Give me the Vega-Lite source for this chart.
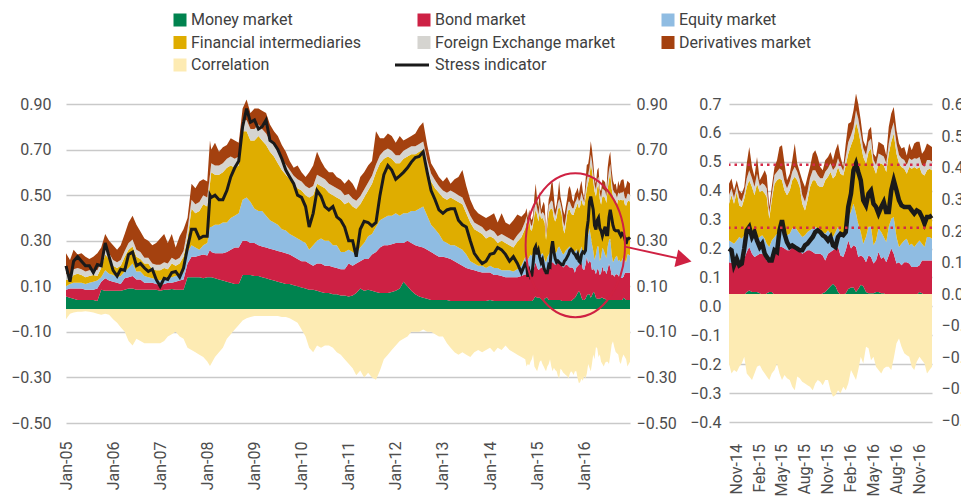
{
  "$schema": "https://vega.github.io/schema/vega-lite/v6.json",
  "padding": {"left": 10, "top": 12, "right": 0, "bottom": 0},
  "background": "white",
  "config": {
    "font": "Roboto",
    "view": {"stroke": null},
    "axis": {"labelFont": "Roboto", "labelFontSize": 16, "labelColor": "#4d4d4d", "domain": false, "ticks": false, "gridColor": "#c9c9c9", "gridWidth": 1.5, "labelOverlap": false},
    "legend": {"labelFont": "Roboto"}
  },
  "bounds": "flush",
  "spacing": 99,
  "datasets": {
    "d": [
      {"date":"2005-01-01","s1_money":0.055,"s2_bond":0.03,"s3_equity":0.015,"s4_finint":0.03,"s5_fx":0.025,"s6_deriv":0.09,"corr":-0.045,"stress":0.19},
      {"date":"2005-02-01","s1_money":0.05,"s2_bond":0.04,"s3_equity":0.02,"s4_finint":0.015,"s5_fx":0.025,"s6_deriv":0.065,"corr":-0.02,"stress":0.12},
      {"date":"2005-03-01","s1_money":0.045,"s2_bond":0.045,"s3_equity":0.025,"s4_finint":0.035,"s5_fx":0.025,"s6_deriv":0.085,"corr":-0.015,"stress":0.21},
      {"date":"2005-04-01","s1_money":0.04,"s2_bond":0.05,"s3_equity":0.025,"s4_finint":0.04,"s5_fx":0.025,"s6_deriv":0.06,"corr":-0.012,"stress":0.23},
      {"date":"2005-05-01","s1_money":0.04,"s2_bond":0.05,"s3_equity":0.025,"s4_finint":0.035,"s5_fx":0.025,"s6_deriv":0.07,"corr":-0.012,"stress":0.21},
      {"date":"2005-06-01","s1_money":0.04,"s2_bond":0.045,"s3_equity":0.025,"s4_finint":0.03,"s5_fx":0.025,"s6_deriv":0.065,"corr":-0.01,"stress":0.19},
      {"date":"2005-07-01","s1_money":0.04,"s2_bond":0.045,"s3_equity":0.03,"s4_finint":0.03,"s5_fx":0.025,"s6_deriv":0.05,"corr":-0.012,"stress":0.19},
      {"date":"2005-08-01","s1_money":0.04,"s2_bond":0.045,"s3_equity":0.035,"s4_finint":0.03,"s5_fx":0.025,"s6_deriv":0.055,"corr":-0.015,"stress":0.16},
      {"date":"2005-09-01","s1_money":0.035,"s2_bond":0.055,"s3_equity":0.035,"s4_finint":0.02,"s5_fx":0.025,"s6_deriv":0.075,"corr":-0.02,"stress":0.195},
      {"date":"2005-10-01","s1_money":0.085,"s2_bond":0.035,"s3_equity":0.02,"s4_finint":0.04,"s5_fx":0.025,"s6_deriv":0.065,"corr":-0.025,"stress":0.19},
      {"date":"2005-11-01","s1_money":0.08,"s2_bond":0.055,"s3_equity":0.035,"s4_finint":0.07,"s5_fx":0.025,"s6_deriv":0.065,"corr":-0.02,"stress":0.29},
      {"date":"2005-12-01","s1_money":0.08,"s2_bond":0.045,"s3_equity":0.03,"s4_finint":0.065,"s5_fx":0.025,"s6_deriv":0.055,"corr":-0.025,"stress":0.23},
      {"date":"2006-01-01","s1_money":0.08,"s2_bond":0.04,"s3_equity":0.03,"s4_finint":0.04,"s5_fx":0.025,"s6_deriv":0.065,"corr":-0.045,"stress":0.17},
      {"date":"2006-02-01","s1_money":0.08,"s2_bond":0.035,"s3_equity":0.025,"s4_finint":0.04,"s5_fx":0.025,"s6_deriv":0.055,"corr":-0.06,"stress":0.145},
      {"date":"2006-03-01","s1_money":0.08,"s2_bond":0.03,"s3_equity":0.035,"s4_finint":0.045,"s5_fx":0.025,"s6_deriv":0.065,"corr":-0.08,"stress":0.175},
      {"date":"2006-04-01","s1_money":0.085,"s2_bond":0.05,"s3_equity":0.03,"s4_finint":0.065,"s5_fx":0.025,"s6_deriv":0.075,"corr":-0.1,"stress":0.17},
      {"date":"2006-05-01","s1_money":0.09,"s2_bond":0.05,"s3_equity":0.04,"s4_finint":0.08,"s5_fx":0.03,"s6_deriv":0.09,"corr":-0.14,"stress":0.24},
      {"date":"2006-06-01","s1_money":0.09,"s2_bond":0.055,"s3_equity":0.055,"s4_finint":0.075,"s5_fx":0.03,"s6_deriv":0.105,"corr":-0.16,"stress":0.25},
      {"date":"2006-07-01","s1_money":0.085,"s2_bond":0.045,"s3_equity":0.035,"s4_finint":0.065,"s5_fx":0.03,"s6_deriv":0.11,"corr":-0.13,"stress":0.19},
      {"date":"2006-08-01","s1_money":0.085,"s2_bond":0.045,"s3_equity":0.035,"s4_finint":0.055,"s5_fx":0.03,"s6_deriv":0.09,"corr":-0.14,"stress":0.2},
      {"date":"2006-09-01","s1_money":0.085,"s2_bond":0.03,"s3_equity":0.03,"s4_finint":0.055,"s5_fx":0.025,"s6_deriv":0.085,"corr":-0.15,"stress":0.18},
      {"date":"2006-10-01","s1_money":0.085,"s2_bond":0.03,"s3_equity":0.025,"s4_finint":0.06,"s5_fx":0.025,"s6_deriv":0.075,"corr":-0.15,"stress":0.165},
      {"date":"2006-11-01","s1_money":0.085,"s2_bond":0.03,"s3_equity":0.02,"s4_finint":0.04,"s5_fx":0.025,"s6_deriv":0.08,"corr":-0.15,"stress":0.175},
      {"date":"2006-12-01","s1_money":0.085,"s2_bond":0.025,"s3_equity":0.02,"s4_finint":0.04,"s5_fx":0.025,"s6_deriv":0.095,"corr":-0.15,"stress":0.13},
      {"date":"2007-01-01","s1_money":0.08,"s2_bond":0.025,"s3_equity":0.02,"s4_finint":0.045,"s5_fx":0.025,"s6_deriv":0.115,"corr":-0.15,"stress":0.1},
      {"date":"2007-02-01","s1_money":0.085,"s2_bond":0.025,"s3_equity":0.025,"s4_finint":0.045,"s5_fx":0.025,"s6_deriv":0.125,"corr":-0.14,"stress":0.135},
      {"date":"2007-03-01","s1_money":0.085,"s2_bond":0.03,"s3_equity":0.025,"s4_finint":0.035,"s5_fx":0.025,"s6_deriv":0.09,"corr":-0.12,"stress":0.13},
      {"date":"2007-04-01","s1_money":0.088,"s2_bond":0.027,"s3_equity":0.025,"s4_finint":0.06,"s5_fx":0.025,"s6_deriv":0.105,"corr":-0.11,"stress":0.16},
      {"date":"2007-05-01","s1_money":0.085,"s2_bond":0.035,"s3_equity":0.025,"s4_finint":0.045,"s5_fx":0.025,"s6_deriv":0.055,"corr":-0.1,"stress":0.165},
      {"date":"2007-06-01","s1_money":0.085,"s2_bond":0.04,"s3_equity":0.025,"s4_finint":0.05,"s5_fx":0.025,"s6_deriv":0.095,"corr":-0.12,"stress":0.14},
      {"date":"2007-07-01","s1_money":0.085,"s2_bond":0.045,"s3_equity":0.03,"s4_finint":0.07,"s5_fx":0.025,"s6_deriv":0.095,"corr":-0.13,"stress":0.18},
      {"date":"2007-08-01","s1_money":0.14,"s2_bond":0.06,"s3_equity":0.05,"s4_finint":0.06,"s5_fx":0.04,"s6_deriv":0.05,"corr":-0.17,"stress":0.27},
      {"date":"2007-09-01","s1_money":0.14,"s2_bond":0.09,"s3_equity":0.05,"s4_finint":0.16,"s5_fx":0.04,"s6_deriv":0.07,"corr":-0.18,"stress":0.35},
      {"date":"2007-10-01","s1_money":0.14,"s2_bond":0.09,"s3_equity":0.04,"s4_finint":0.15,"s5_fx":0.04,"s6_deriv":0.07,"corr":-0.19,"stress":0.35},
      {"date":"2007-11-01","s1_money":0.14,"s2_bond":0.095,"s3_equity":0.025,"s4_finint":0.17,"s5_fx":0.04,"s6_deriv":0.09,"corr":-0.2,"stress":0.31},
      {"date":"2007-12-01","s1_money":0.135,"s2_bond":0.105,"s3_equity":0.04,"s4_finint":0.18,"s5_fx":0.04,"s6_deriv":0.07,"corr":-0.21,"stress":0.32},
      {"date":"2008-01-01","s1_money":0.14,"s2_bond":0.095,"s3_equity":0.055,"s4_finint":0.16,"s5_fx":0.04,"s6_deriv":0.07,"corr":-0.23,"stress":0.32},
      {"date":"2008-01-22","s1_money":0.14,"s2_bond":0.12,"s3_equity":0.1,"s4_finint":0.19,"s5_fx":0.04,"s6_deriv":0.15,"corr":-0.25,"stress":0.5},
      {"date":"2008-02-01","s1_money":0.14,"s2_bond":0.11,"s3_equity":0.11,"s4_finint":0.24,"s5_fx":0.04,"s6_deriv":0.06,"corr":-0.24,"stress":0.49},
      {"date":"2008-03-01","s1_money":0.135,"s2_bond":0.11,"s3_equity":0.125,"s4_finint":0.22,"s5_fx":0.04,"s6_deriv":0.1,"corr":-0.21,"stress":0.5},
      {"date":"2008-04-01","s1_money":0.13,"s2_bond":0.115,"s3_equity":0.125,"s4_finint":0.22,"s5_fx":0.04,"s6_deriv":0.06,"corr":-0.19,"stress":0.48},
      {"date":"2008-05-01","s1_money":0.125,"s2_bond":0.12,"s3_equity":0.135,"s4_finint":0.22,"s5_fx":0.04,"s6_deriv":0.07,"corr":-0.17,"stress":0.48},
      {"date":"2008-06-01","s1_money":0.12,"s2_bond":0.13,"s3_equity":0.13,"s4_finint":0.24,"s5_fx":0.04,"s6_deriv":0.06,"corr":-0.13,"stress":0.52},
      {"date":"2008-07-01","s1_money":0.115,"s2_bond":0.145,"s3_equity":0.14,"s4_finint":0.23,"s5_fx":0.04,"s6_deriv":0.08,"corr":-0.11,"stress":0.58},
      {"date":"2008-08-01","s1_money":0.11,"s2_bond":0.16,"s3_equity":0.14,"s4_finint":0.21,"s5_fx":0.04,"s6_deriv":0.08,"corr":-0.09,"stress":0.62},
      {"date":"2008-09-01","s1_money":0.11,"s2_bond":0.16,"s3_equity":0.15,"s4_finint":0.21,"s5_fx":0.04,"s6_deriv":0.06,"corr":-0.07,"stress":0.65},
      {"date":"2008-10-01","s1_money":0.15,"s2_bond":0.15,"s3_equity":0.18,"s4_finint":0.3,"s5_fx":0.045,"s6_deriv":0.055,"corr":-0.05,"stress":0.8},
      {"date":"2008-11-01","s1_money":0.15,"s2_bond":0.15,"s3_equity":0.19,"s4_finint":0.29,"s5_fx":0.05,"s6_deriv":0.09,"corr":-0.04,"stress":0.88},
      {"date":"2008-12-01","s1_money":0.15,"s2_bond":0.14,"s3_equity":0.18,"s4_finint":0.27,"s5_fx":0.05,"s6_deriv":0.07,"corr":-0.035,"stress":0.82},
      {"date":"2009-01-01","s1_money":0.145,"s2_bond":0.145,"s3_equity":0.15,"s4_finint":0.3,"s5_fx":0.05,"s6_deriv":0.09,"corr":-0.03,"stress":0.83},
      {"date":"2009-02-01","s1_money":0.145,"s2_bond":0.135,"s3_equity":0.15,"s4_finint":0.33,"s5_fx":0.05,"s6_deriv":0.07,"corr":-0.03,"stress":0.79},
      {"date":"2009-03-01","s1_money":0.14,"s2_bond":0.135,"s3_equity":0.155,"s4_finint":0.31,"s5_fx":0.05,"s6_deriv":0.08,"corr":-0.03,"stress":0.8},
      {"date":"2009-04-01","s1_money":0.135,"s2_bond":0.135,"s3_equity":0.14,"s4_finint":0.31,"s5_fx":0.05,"s6_deriv":0.09,"corr":-0.03,"stress":0.83},
      {"date":"2009-05-01","s1_money":0.13,"s2_bond":0.135,"s3_equity":0.125,"s4_finint":0.3,"s5_fx":0.05,"s6_deriv":0.07,"corr":-0.03,"stress":0.74},
      {"date":"2009-06-01","s1_money":0.125,"s2_bond":0.135,"s3_equity":0.12,"s4_finint":0.29,"s5_fx":0.05,"s6_deriv":0.06,"corr":-0.03,"stress":0.727},
      {"date":"2009-07-01","s1_money":0.12,"s2_bond":0.135,"s3_equity":0.115,"s4_finint":0.27,"s5_fx":0.05,"s6_deriv":0.07,"corr":-0.03,"stress":0.7},
      {"date":"2009-08-01","s1_money":0.115,"s2_bond":0.135,"s3_equity":0.1,"s4_finint":0.26,"s5_fx":0.045,"s6_deriv":0.065,"corr":-0.035,"stress":0.66},
      {"date":"2009-09-01","s1_money":0.11,"s2_bond":0.135,"s3_equity":0.1,"s4_finint":0.245,"s5_fx":0.045,"s6_deriv":0.055,"corr":-0.035,"stress":0.61},
      {"date":"2009-10-01","s1_money":0.11,"s2_bond":0.13,"s3_equity":0.09,"s4_finint":0.24,"s5_fx":0.04,"s6_deriv":0.04,"corr":-0.04,"stress":0.58},
      {"date":"2009-11-01","s1_money":0.105,"s2_bond":0.125,"s3_equity":0.09,"s4_finint":0.23,"s5_fx":0.035,"s6_deriv":0.035,"corr":-0.05,"stress":0.55},
      {"date":"2009-12-01","s1_money":0.1,"s2_bond":0.12,"s3_equity":0.09,"s4_finint":0.22,"s5_fx":0.04,"s6_deriv":0.06,"corr":-0.06,"stress":0.5},
      {"date":"2010-01-01","s1_money":0.095,"s2_bond":0.115,"s3_equity":0.09,"s4_finint":0.22,"s5_fx":0.04,"s6_deriv":0.04,"corr":-0.09,"stress":0.49},
      {"date":"2010-02-01","s1_money":0.09,"s2_bond":0.12,"s3_equity":0.08,"s4_finint":0.21,"s5_fx":0.04,"s6_deriv":0.04,"corr":-0.12,"stress":0.45},
      {"date":"2010-03-01","s1_money":0.085,"s2_bond":0.115,"s3_equity":0.06,"s4_finint":0.23,"s5_fx":0.04,"s6_deriv":0.07,"corr":-0.17,"stress":0.36},
      {"date":"2010-04-01","s1_money":0.085,"s2_bond":0.105,"s3_equity":0.09,"s4_finint":0.22,"s5_fx":0.04,"s6_deriv":0.09,"corr":-0.19,"stress":0.42},
      {"date":"2010-05-01","s1_money":0.08,"s2_bond":0.12,"s3_equity":0.1,"s4_finint":0.25,"s5_fx":0.04,"s6_deriv":0.1,"corr":-0.16,"stress":0.52},
      {"date":"2010-06-01","s1_money":0.075,"s2_bond":0.125,"s3_equity":0.11,"s4_finint":0.23,"s5_fx":0.04,"s6_deriv":0.07,"corr":-0.17,"stress":0.495},
      {"date":"2010-07-01","s1_money":0.07,"s2_bond":0.12,"s3_equity":0.11,"s4_finint":0.23,"s5_fx":0.04,"s6_deriv":0.05,"corr":-0.16,"stress":0.45},
      {"date":"2010-08-01","s1_money":0.07,"s2_bond":0.12,"s3_equity":0.11,"s4_finint":0.21,"s5_fx":0.04,"s6_deriv":0.05,"corr":-0.16,"stress":0.435},
      {"date":"2010-09-01","s1_money":0.065,"s2_bond":0.12,"s3_equity":0.095,"s4_finint":0.22,"s5_fx":0.04,"s6_deriv":0.06,"corr":-0.17,"stress":0.45},
      {"date":"2010-10-01","s1_money":0.065,"s2_bond":0.115,"s3_equity":0.1,"s4_finint":0.21,"s5_fx":0.04,"s6_deriv":0.05,"corr":-0.19,"stress":0.405},
      {"date":"2010-11-01","s1_money":0.06,"s2_bond":0.115,"s3_equity":0.075,"s4_finint":0.23,"s5_fx":0.04,"s6_deriv":0.05,"corr":-0.2,"stress":0.39},
      {"date":"2010-12-01","s1_money":0.06,"s2_bond":0.115,"s3_equity":0.075,"s4_finint":0.21,"s5_fx":0.04,"s6_deriv":0.05,"corr":-0.22,"stress":0.36},
      {"date":"2011-01-01","s1_money":0.055,"s2_bond":0.145,"s3_equity":0.06,"s4_finint":0.21,"s5_fx":0.035,"s6_deriv":0.065,"corr":-0.24,"stress":0.3},
      {"date":"2011-02-01","s1_money":0.06,"s2_bond":0.13,"s3_equity":0.06,"s4_finint":0.2,"s5_fx":0.035,"s6_deriv":0.065,"corr":-0.26,"stress":0.3},
      {"date":"2011-03-01","s1_money":0.07,"s2_bond":0.13,"s3_equity":0.04,"s4_finint":0.2,"s5_fx":0.035,"s6_deriv":0.045,"corr":-0.29,"stress":0.23},
      {"date":"2011-04-01","s1_money":0.09,"s2_bond":0.12,"s3_equity":0.06,"s4_finint":0.19,"s5_fx":0.035,"s6_deriv":0.085,"corr":-0.27,"stress":0.35},
      {"date":"2011-05-01","s1_money":0.08,"s2_bond":0.14,"s3_equity":0.07,"s4_finint":0.2,"s5_fx":0.035,"s6_deriv":0.075,"corr":-0.3,"stress":0.385},
      {"date":"2011-06-01","s1_money":0.085,"s2_bond":0.135,"s3_equity":0.1,"s4_finint":0.2,"s5_fx":0.035,"s6_deriv":0.075,"corr":-0.28,"stress":0.38},
      {"date":"2011-07-01","s1_money":0.08,"s2_bond":0.16,"s3_equity":0.09,"s4_finint":0.22,"s5_fx":0.035,"s6_deriv":0.065,"corr":-0.3,"stress":0.365},
      {"date":"2011-08-01","s1_money":0.075,"s2_bond":0.175,"s3_equity":0.11,"s4_finint":0.24,"s5_fx":0.035,"s6_deriv":0.145,"corr":-0.31,"stress":0.38},
      {"date":"2011-09-01","s1_money":0.07,"s2_bond":0.2,"s3_equity":0.12,"s4_finint":0.25,"s5_fx":0.035,"s6_deriv":0.075,"corr":-0.27,"stress":0.5},
      {"date":"2011-10-01","s1_money":0.07,"s2_bond":0.21,"s3_equity":0.12,"s4_finint":0.26,"s5_fx":0.035,"s6_deriv":0.055,"corr":-0.22,"stress":0.59},
      {"date":"2011-11-01","s1_money":0.07,"s2_bond":0.21,"s3_equity":0.13,"s4_finint":0.26,"s5_fx":0.035,"s6_deriv":0.065,"corr":-0.2,"stress":0.63},
      {"date":"2011-12-01","s1_money":0.075,"s2_bond":0.21,"s3_equity":0.125,"s4_finint":0.25,"s5_fx":0.035,"s6_deriv":0.065,"corr":-0.18,"stress":0.61},
      {"date":"2012-01-01","s1_money":0.08,"s2_bond":0.21,"s3_equity":0.13,"s4_finint":0.22,"s5_fx":0.035,"s6_deriv":0.055,"corr":-0.16,"stress":0.57},
      {"date":"2012-02-01","s1_money":0.09,"s2_bond":0.2,"s3_equity":0.12,"s4_finint":0.23,"s5_fx":0.035,"s6_deriv":0.085,"corr":-0.14,"stress":0.585},
      {"date":"2012-03-01","s1_money":0.12,"s2_bond":0.17,"s3_equity":0.13,"s4_finint":0.24,"s5_fx":0.035,"s6_deriv":0.045,"corr":-0.13,"stress":0.6},
      {"date":"2012-04-01","s1_money":0.1,"s2_bond":0.2,"s3_equity":0.12,"s4_finint":0.25,"s5_fx":0.035,"s6_deriv":0.045,"corr":-0.12,"stress":0.62},
      {"date":"2012-05-01","s1_money":0.08,"s2_bond":0.21,"s3_equity":0.14,"s4_finint":0.25,"s5_fx":0.035,"s6_deriv":0.045,"corr":-0.1,"stress":0.645},
      {"date":"2012-06-01","s1_money":0.065,"s2_bond":0.215,"s3_equity":0.15,"s4_finint":0.25,"s5_fx":0.035,"s6_deriv":0.055,"corr":-0.1,"stress":0.665},
      {"date":"2012-07-01","s1_money":0.055,"s2_bond":0.22,"s3_equity":0.165,"s4_finint":0.25,"s5_fx":0.035,"s6_deriv":0.075,"corr":-0.1,"stress":0.67},
      {"date":"2012-08-01","s1_money":0.05,"s2_bond":0.22,"s3_equity":0.18,"s4_finint":0.25,"s5_fx":0.035,"s6_deriv":0.085,"corr":-0.09,"stress":0.69},
      {"date":"2012-09-01","s1_money":0.045,"s2_bond":0.215,"s3_equity":0.15,"s4_finint":0.21,"s5_fx":0.035,"s6_deriv":0.065,"corr":-0.1,"stress":0.6},
      {"date":"2012-10-01","s1_money":0.04,"s2_bond":0.21,"s3_equity":0.12,"s4_finint":0.19,"s5_fx":0.035,"s6_deriv":0.045,"corr":-0.1,"stress":0.52},
      {"date":"2012-11-01","s1_money":0.04,"s2_bond":0.2,"s3_equity":0.11,"s4_finint":0.18,"s5_fx":0.035,"s6_deriv":0.045,"corr":-0.11,"stress":0.48},
      {"date":"2012-12-01","s1_money":0.04,"s2_bond":0.19,"s3_equity":0.1,"s4_finint":0.18,"s5_fx":0.03,"s6_deriv":0.04,"corr":-0.12,"stress":0.435},
      {"date":"2013-01-01","s1_money":0.04,"s2_bond":0.19,"s3_equity":0.07,"s4_finint":0.19,"s5_fx":0.03,"s6_deriv":0.04,"corr":-0.12,"stress":0.42},
      {"date":"2013-02-01","s1_money":0.04,"s2_bond":0.185,"s3_equity":0.065,"s4_finint":0.19,"s5_fx":0.03,"s6_deriv":0.07,"corr":-0.15,"stress":0.435},
      {"date":"2013-03-01","s1_money":0.035,"s2_bond":0.185,"s3_equity":0.06,"s4_finint":0.21,"s5_fx":0.03,"s6_deriv":0.03,"corr":-0.17,"stress":0.44},
      {"date":"2013-04-01","s1_money":0.035,"s2_bond":0.175,"s3_equity":0.07,"s4_finint":0.2,"s5_fx":0.03,"s6_deriv":0.06,"corr":-0.19,"stress":0.44},
      {"date":"2013-05-01","s1_money":0.035,"s2_bond":0.165,"s3_equity":0.07,"s4_finint":0.2,"s5_fx":0.03,"s6_deriv":0.08,"corr":-0.2,"stress":0.39},
      {"date":"2013-06-01","s1_money":0.035,"s2_bond":0.155,"s3_equity":0.07,"s4_finint":0.2,"s5_fx":0.03,"s6_deriv":0.12,"corr":-0.19,"stress":0.37},
      {"date":"2013-07-01","s1_money":0.035,"s2_bond":0.145,"s3_equity":0.06,"s4_finint":0.18,"s5_fx":0.03,"s6_deriv":0.09,"corr":-0.2,"stress":0.36},
      {"date":"2013-08-01","s1_money":0.035,"s2_bond":0.14,"s3_equity":0.035,"s4_finint":0.17,"s5_fx":0.03,"s6_deriv":0.07,"corr":-0.21,"stress":0.3},
      {"date":"2013-09-01","s1_money":0.035,"s2_bond":0.135,"s3_equity":0.03,"s4_finint":0.15,"s5_fx":0.03,"s6_deriv":0.06,"corr":-0.19,"stress":0.245},
      {"date":"2013-10-01","s1_money":0.035,"s2_bond":0.13,"s3_equity":0.025,"s4_finint":0.15,"s5_fx":0.03,"s6_deriv":0.05,"corr":-0.18,"stress":0.22},
      {"date":"2013-11-01","s1_money":0.035,"s2_bond":0.125,"s3_equity":0.03,"s4_finint":0.14,"s5_fx":0.03,"s6_deriv":0.05,"corr":-0.19,"stress":0.2},
      {"date":"2013-12-01","s1_money":0.035,"s2_bond":0.125,"s3_equity":0.02,"s4_finint":0.13,"s5_fx":0.03,"s6_deriv":0.06,"corr":-0.18,"stress":0.21},
      {"date":"2014-01-01","s1_money":0.04,"s2_bond":0.12,"s3_equity":0.03,"s4_finint":0.13,"s5_fx":0.03,"s6_deriv":0.06,"corr":-0.17,"stress":0.24},
      {"date":"2014-02-01","s1_money":0.035,"s2_bond":0.115,"s3_equity":0.03,"s4_finint":0.13,"s5_fx":0.03,"s6_deriv":0.08,"corr":-0.19,"stress":0.245},
      {"date":"2014-03-01","s1_money":0.035,"s2_bond":0.115,"s3_equity":0.03,"s4_finint":0.11,"s5_fx":0.03,"s6_deriv":0.06,"corr":-0.17,"stress":0.27},
      {"date":"2014-04-01","s1_money":0.035,"s2_bond":0.11,"s3_equity":0.025,"s4_finint":0.13,"s5_fx":0.03,"s6_deriv":0.09,"corr":-0.18,"stress":0.26},
      {"date":"2014-05-01","s1_money":0.035,"s2_bond":0.105,"s3_equity":0.03,"s4_finint":0.12,"s5_fx":0.03,"s6_deriv":0.06,"corr":-0.16,"stress":0.24},
      {"date":"2014-06-01","s1_money":0.035,"s2_bond":0.105,"s3_equity":0.03,"s4_finint":0.11,"s5_fx":0.03,"s6_deriv":0.06,"corr":-0.18,"stress":0.21},
      {"date":"2014-07-01","s1_money":0.035,"s2_bond":0.105,"s3_equity":0.025,"s4_finint":0.105,"s5_fx":0.03,"s6_deriv":0.09,"corr":-0.19,"stress":0.23},
      {"date":"2014-08-01","s1_money":0.035,"s2_bond":0.105,"s3_equity":0.035,"s4_finint":0.12,"s5_fx":0.03,"s6_deriv":0.09,"corr":-0.2,"stress":0.2},
      {"date":"2014-09-01","s1_money":0.035,"s2_bond":0.11,"s3_equity":0.045,"s4_finint":0.125,"s5_fx":0.03,"s6_deriv":0.06,"corr":-0.21,"stress":0.16},
      {"date":"2014-10-01","s1_money":0.035,"s2_bond":0.118,"s3_equity":0.075,"s4_finint":0.127,"s5_fx":0.03,"s6_deriv":0.039,"corr":-0.22,"stress":0.2},
      {"date":"2014-10-11","s1_money":0.035,"s2_bond":0.115,"s3_equity":0.073,"s4_finint":0.161,"s5_fx":0.025,"s6_deriv":0.033,"corr":-0.252,"stress":0.194},
      {"date":"2014-10-21","s1_money":0.035,"s2_bond":0.113,"s3_equity":0.069,"s4_finint":0.138,"s5_fx":0.02,"s6_deriv":0.026,"corr":-0.241,"stress":0.142},
      {"date":"2014-11-01","s1_money":0.035,"s2_bond":0.118,"s3_equity":0.075,"s4_finint":0.168,"s5_fx":0.02,"s6_deriv":0.02,"corr":-0.247,"stress":0.165},
      {"date":"2014-11-11","s1_money":0.035,"s2_bond":0.124,"s3_equity":0.081,"s4_finint":0.109,"s5_fx":0.025,"s6_deriv":0.027,"corr":-0.231,"stress":0.142},
      {"date":"2014-11-21","s1_money":0.035,"s2_bond":0.118,"s3_equity":0.081,"s4_finint":0.11,"s5_fx":0.02,"s6_deriv":0.026,"corr":-0.22,"stress":0.148},
      {"date":"2014-12-01","s1_money":0.04,"s2_bond":0.125,"s3_equity":0.081,"s4_finint":0.126,"s5_fx":0.02,"s6_deriv":0.021,"corr":-0.199,"stress":0.2},
      {"date":"2014-12-11","s1_money":0.05,"s2_bond":0.138,"s3_equity":0.075,"s4_finint":0.15,"s5_fx":0.03,"s6_deriv":0.051,"corr":-0.252,"stress":0.263},
      {"date":"2014-12-21","s1_money":0.055,"s2_bond":0.15,"s3_equity":0.07,"s4_finint":0.161,"s5_fx":0.035,"s6_deriv":0.08,"corr":-0.262,"stress":0.275},
      {"date":"2015-01-01","s1_money":0.05,"s2_bond":0.132,"s3_equity":0.075,"s4_finint":0.156,"s5_fx":0.03,"s6_deriv":0.039,"corr":-0.273,"stress":0.24},
      {"date":"2015-01-11","s1_money":0.05,"s2_bond":0.121,"s3_equity":0.069,"s4_finint":0.144,"s5_fx":0.03,"s6_deriv":0.034,"corr":-0.252,"stress":0.257},
      {"date":"2015-01-21","s1_money":0.05,"s2_bond":0.126,"s3_equity":0.058,"s4_finint":0.19,"s5_fx":0.035,"s6_deriv":0.058,"corr":-0.231,"stress":0.228},
      {"date":"2015-02-01","s1_money":0.045,"s2_bond":0.137,"s3_equity":0.058,"s4_finint":0.156,"s5_fx":0.02,"s6_deriv":0.02,"corr":-0.225,"stress":0.205},
      {"date":"2015-02-11","s1_money":0.04,"s2_bond":0.142,"s3_equity":0.064,"s4_finint":0.155,"s5_fx":0.025,"s6_deriv":0.027,"corr":-0.241,"stress":0.217},
      {"date":"2015-02-21","s1_money":0.04,"s2_bond":0.131,"s3_equity":0.063,"s4_finint":0.156,"s5_fx":0.03,"s6_deriv":0.051,"corr":-0.252,"stress":0.182},
      {"date":"2015-03-01","s1_money":0.045,"s2_bond":0.114,"s3_equity":0.058,"s4_finint":0.161,"s5_fx":0.03,"s6_deriv":0.045,"corr":-0.262,"stress":0.171},
      {"date":"2015-03-11","s1_money":0.05,"s2_bond":0.103,"s3_equity":0.052,"s4_finint":0.098,"s5_fx":0.02,"s6_deriv":0.021,"corr":-0.273,"stress":0.159},
      {"date":"2015-03-21","s1_money":0.05,"s2_bond":0.132,"s3_equity":0.046,"s4_finint":0.139,"s5_fx":0.02,"s6_deriv":0.026,"corr":-0.252,"stress":0.159},
      {"date":"2015-04-01","s1_money":0.04,"s2_bond":0.154,"s3_equity":0.046,"s4_finint":0.184,"s5_fx":0.03,"s6_deriv":0.028,"corr":-0.241,"stress":0.194},
      {"date":"2015-04-11","s1_money":0.04,"s2_bond":0.16,"s3_equity":0.051,"s4_finint":0.185,"s5_fx":0.03,"s6_deriv":0.039,"corr":-0.22,"stress":0.188},
      {"date":"2015-04-21","s1_money":0.04,"s2_bond":0.165,"s3_equity":0.07,"s4_finint":0.167,"s5_fx":0.035,"s6_deriv":0.074,"corr":-0.252,"stress":0.263},
      {"date":"2015-05-01","s1_money":0.04,"s2_bond":0.165,"s3_equity":0.081,"s4_finint":0.15,"s5_fx":0.035,"s6_deriv":0.086,"corr":-0.273,"stress":0.298},
      {"date":"2015-05-11","s1_money":0.04,"s2_bond":0.16,"s3_equity":0.063,"s4_finint":0.138,"s5_fx":0.03,"s6_deriv":0.063,"corr":-0.257,"stress":0.251},
      {"date":"2015-05-21","s1_money":0.04,"s2_bond":0.154,"s3_equity":0.052,"s4_finint":0.138,"s5_fx":0.025,"s6_deriv":0.027,"corr":-0.267,"stress":0.222},
      {"date":"2015-06-01","s1_money":0.04,"s2_bond":0.154,"s3_equity":0.057,"s4_finint":0.15,"s5_fx":0.03,"s6_deriv":0.028,"corr":-0.273,"stress":0.205},
      {"date":"2015-06-11","s1_money":0.04,"s2_bond":0.165,"s3_equity":0.064,"s4_finint":0.167,"s5_fx":0.03,"s6_deriv":0.039,"corr":-0.294,"stress":0.211},
      {"date":"2015-06-21","s1_money":0.04,"s2_bond":0.165,"s3_equity":0.07,"s4_finint":0.173,"s5_fx":0.035,"s6_deriv":0.08,"corr":-0.305,"stress":0.205},
      {"date":"2015-07-01","s1_money":0.04,"s2_bond":0.16,"s3_equity":0.063,"s4_finint":0.173,"s5_fx":0.03,"s6_deriv":0.028,"corr":-0.262,"stress":0.2},
      {"date":"2015-07-11","s1_money":0.035,"s2_bond":0.159,"s3_equity":0.057,"s4_finint":0.162,"s5_fx":0.025,"s6_deriv":0.027,"corr":-0.267,"stress":0.194},
      {"date":"2015-07-21","s1_money":0.035,"s2_bond":0.147,"s3_equity":0.058,"s4_finint":0.115,"s5_fx":0.03,"s6_deriv":0.051,"corr":-0.278,"stress":0.194},
      {"date":"2015-08-01","s1_money":0.035,"s2_bond":0.153,"s3_equity":0.058,"s4_finint":0.086,"s5_fx":0.03,"s6_deriv":0.051,"corr":-0.284,"stress":0.211},
      {"date":"2015-08-11","s1_money":0.035,"s2_bond":0.159,"s3_equity":0.063,"s4_finint":0.11,"s5_fx":0.03,"s6_deriv":0.051,"corr":-0.289,"stress":0.217},
      {"date":"2015-08-21","s1_money":0.035,"s2_bond":0.159,"s3_equity":0.069,"s4_finint":0.15,"s5_fx":0.03,"s6_deriv":0.039,"corr":-0.294,"stress":0.228},
      {"date":"2015-09-01","s1_money":0.035,"s2_bond":0.153,"s3_equity":0.081,"s4_finint":0.167,"s5_fx":0.035,"s6_deriv":0.057,"corr":-0.305,"stress":0.24},
      {"date":"2015-09-11","s1_money":0.035,"s2_bond":0.147,"s3_equity":0.093,"s4_finint":0.161,"s5_fx":0.035,"s6_deriv":0.069,"corr":-0.284,"stress":0.257},
      {"date":"2015-09-21","s1_money":0.035,"s2_bond":0.147,"s3_equity":0.087,"s4_finint":0.15,"s5_fx":0.035,"s6_deriv":0.063,"corr":-0.273,"stress":0.263},
      {"date":"2015-10-01","s1_money":0.04,"s2_bond":0.142,"s3_equity":0.081,"s4_finint":0.15,"s5_fx":0.03,"s6_deriv":0.039,"corr":-0.278,"stress":0.257},
      {"date":"2015-10-11","s1_money":0.045,"s2_bond":0.131,"s3_equity":0.081,"s4_finint":0.156,"s5_fx":0.03,"s6_deriv":0.028,"corr":-0.289,"stress":0.246},
      {"date":"2015-10-21","s1_money":0.05,"s2_bond":0.109,"s3_equity":0.092,"s4_finint":0.185,"s5_fx":0.03,"s6_deriv":0.039,"corr":-0.273,"stress":0.24},
      {"date":"2015-11-01","s1_money":0.06,"s2_bond":0.122,"s3_equity":0.081,"s4_finint":0.185,"s5_fx":0.03,"s6_deriv":0.039,"corr":-0.273,"stress":0.228},
      {"date":"2015-11-11","s1_money":0.07,"s2_bond":0.118,"s3_equity":0.063,"s4_finint":0.214,"s5_fx":0.03,"s6_deriv":0.039,"corr":-0.305,"stress":0.24},
      {"date":"2015-11-21","s1_money":0.078,"s2_bond":0.116,"s3_equity":0.046,"s4_finint":0.202,"s5_fx":0.03,"s6_deriv":0.033,"corr":-0.326,"stress":0.211},
      {"date":"2015-12-01","s1_money":0.07,"s2_bond":0.13,"s3_equity":0.057,"s4_finint":0.196,"s5_fx":0.03,"s6_deriv":0.057,"corr":-0.32,"stress":0.205},
      {"date":"2015-12-11","s1_money":0.05,"s2_bond":0.155,"s3_equity":0.07,"s4_finint":0.207,"s5_fx":0.03,"s6_deriv":0.051,"corr":-0.305,"stress":0.24},
      {"date":"2015-12-21","s1_money":0.04,"s2_bond":0.136,"s3_equity":0.075,"s4_finint":0.208,"s5_fx":0.03,"s6_deriv":0.028,"corr":-0.315,"stress":0.251},
      {"date":"2016-01-01","s1_money":0.04,"s2_bond":0.131,"s3_equity":0.069,"s4_finint":0.213,"s5_fx":0.015,"s6_deriv":0.014,"corr":-0.294,"stress":0.246},
      {"date":"2016-01-11","s1_money":0.045,"s2_bond":0.149,"s3_equity":0.081,"s4_finint":0.213,"s5_fx":0.03,"s6_deriv":0.045,"corr":-0.305,"stress":0.257},
      {"date":"2016-01-21","s1_money":0.06,"s2_bond":0.168,"s3_equity":0.081,"s4_finint":0.219,"s5_fx":0.04,"s6_deriv":0.064,"corr":-0.284,"stress":0.344},
      {"date":"2016-02-01","s1_money":0.065,"s2_bond":0.135,"s3_equity":0.126,"s4_finint":0.231,"s5_fx":0.035,"s6_deriv":0.046,"corr":-0.241,"stress":0.39},
      {"date":"2016-02-11","s1_money":0.065,"s2_bond":0.146,"s3_equity":0.144,"s4_finint":0.225,"s5_fx":0.04,"s6_deriv":0.058,"corr":-0.257,"stress":0.471},
      {"date":"2016-02-21","s1_money":0.05,"s2_bond":0.155,"s3_equity":0.116,"s4_finint":0.317,"s5_fx":0.04,"s6_deriv":0.058,"corr":-0.273,"stress":0.494},
      {"date":"2016-03-01","s1_money":0.06,"s2_bond":0.111,"s3_equity":0.115,"s4_finint":0.323,"s5_fx":0.04,"s6_deriv":0.052,"corr":-0.241,"stress":0.465},
      {"date":"2016-03-11","s1_money":0.075,"s2_bond":0.101,"s3_equity":0.081,"s4_finint":0.306,"s5_fx":0.035,"s6_deriv":0.046,"corr":-0.199,"stress":0.436},
      {"date":"2016-03-21","s1_money":0.07,"s2_bond":0.101,"s3_equity":0.046,"s4_finint":0.3,"s5_fx":0.03,"s6_deriv":0.027,"corr":-0.22,"stress":0.367},
      {"date":"2016-04-01","s1_money":0.05,"s2_bond":0.103,"s3_equity":0.087,"s4_finint":0.254,"s5_fx":0.03,"s6_deriv":0.027,"corr":-0.167,"stress":0.349},
      {"date":"2016-04-11","s1_money":0.045,"s2_bond":0.131,"s3_equity":0.099,"s4_finint":0.259,"s5_fx":0.035,"s6_deriv":0.04,"corr":-0.172,"stress":0.39},
      {"date":"2016-04-21","s1_money":0.045,"s2_bond":0.126,"s3_equity":0.104,"s4_finint":0.271,"s5_fx":0.035,"s6_deriv":0.04,"corr":-0.21,"stress":0.401},
      {"date":"2016-05-01","s1_money":0.045,"s2_bond":0.103,"s3_equity":0.063,"s4_finint":0.271,"s5_fx":0.025,"s6_deriv":0.021,"corr":-0.199,"stress":0.355},
      {"date":"2016-05-11","s1_money":0.05,"s2_bond":0.109,"s3_equity":0.069,"s4_finint":0.231,"s5_fx":0.03,"s6_deriv":0.028,"corr":-0.231,"stress":0.344},
      {"date":"2016-05-21","s1_money":0.05,"s2_bond":0.138,"s3_equity":0.081,"s4_finint":0.225,"s5_fx":0.035,"s6_deriv":0.04,"corr":-0.241,"stress":0.321},
      {"date":"2016-06-01","s1_money":0.045,"s2_bond":0.12,"s3_equity":0.092,"s4_finint":0.237,"s5_fx":0.03,"s6_deriv":0.039,"corr":-0.252,"stress":0.344},
      {"date":"2016-06-11","s1_money":0.045,"s2_bond":0.126,"s3_equity":0.069,"s4_finint":0.248,"s5_fx":0.03,"s6_deriv":0.039,"corr":-0.236,"stress":0.361},
      {"date":"2016-06-21","s1_money":0.04,"s2_bond":0.113,"s3_equity":0.07,"s4_finint":0.242,"s5_fx":0.03,"s6_deriv":0.027,"corr":-0.231,"stress":0.326},
      {"date":"2016-07-01","s1_money":0.04,"s2_bond":0.136,"s3_equity":0.099,"s4_finint":0.253,"s5_fx":0.035,"s6_deriv":0.058,"corr":-0.231,"stress":0.326},
      {"date":"2016-07-11","s1_money":0.04,"s2_bond":0.16,"s3_equity":0.103,"s4_finint":0.266,"s5_fx":0.04,"s6_deriv":0.058,"corr":-0.241,"stress":0.401},
      {"date":"2016-07-21","s1_money":0.04,"s2_bond":0.142,"s3_equity":0.127,"s4_finint":0.288,"s5_fx":0.04,"s6_deriv":0.053,"corr":-0.204,"stress":0.436},
      {"date":"2016-08-01","s1_money":0.04,"s2_bond":0.108,"s3_equity":0.092,"s4_finint":0.288,"s5_fx":0.035,"s6_deriv":0.046,"corr":-0.156,"stress":0.401},
      {"date":"2016-08-11","s1_money":0.04,"s2_bond":0.113,"s3_equity":0.052,"s4_finint":0.289,"s5_fx":0.03,"s6_deriv":0.039,"corr":-0.141,"stress":0.367},
      {"date":"2016-08-21","s1_money":0.04,"s2_bond":0.102,"s3_equity":0.075,"s4_finint":0.265,"s5_fx":0.03,"s6_deriv":0.034,"corr":-0.167,"stress":0.349},
      {"date":"2016-09-01","s1_money":0.04,"s2_bond":0.113,"s3_equity":0.075,"s4_finint":0.248,"s5_fx":0.03,"s6_deriv":0.045,"corr":-0.188,"stress":0.344},
      {"date":"2016-09-11","s1_money":0.04,"s2_bond":0.113,"s3_equity":0.081,"s4_finint":0.225,"s5_fx":0.03,"s6_deriv":0.033,"corr":-0.194,"stress":0.344},
      {"date":"2016-09-21","s1_money":0.04,"s2_bond":0.108,"s3_equity":0.063,"s4_finint":0.271,"s5_fx":0.03,"s6_deriv":0.051,"corr":-0.199,"stress":0.344},
      {"date":"2016-10-01","s1_money":0.04,"s2_bond":0.096,"s3_equity":0.081,"s4_finint":0.259,"s5_fx":0.03,"s6_deriv":0.034,"corr":-0.231,"stress":0.332},
      {"date":"2016-10-11","s1_money":0.04,"s2_bond":0.096,"s3_equity":0.069,"s4_finint":0.277,"s5_fx":0.03,"s6_deriv":0.051,"corr":-0.241,"stress":0.321},
      {"date":"2016-10-21","s1_money":0.04,"s2_bond":0.096,"s3_equity":0.081,"s4_finint":0.259,"s5_fx":0.035,"s6_deriv":0.058,"corr":-0.215,"stress":0.332},
      {"date":"2016-11-01","s1_money":0.05,"s2_bond":0.092,"s3_equity":0.086,"s4_finint":0.254,"s5_fx":0.035,"s6_deriv":0.052,"corr":-0.199,"stress":0.326},
      {"date":"2016-11-11","s1_money":0.045,"s2_bond":0.114,"s3_equity":0.058,"s4_finint":0.242,"s5_fx":0.03,"s6_deriv":0.039,"corr":-0.21,"stress":0.309},
      {"date":"2016-11-21","s1_money":0.04,"s2_bond":0.119,"s3_equity":0.046,"s4_finint":0.248,"s5_fx":0.03,"s6_deriv":0.057,"corr":-0.22,"stress":0.286},
      {"date":"2016-12-01","s1_money":0.04,"s2_bond":0.119,"s3_equity":0.081,"s4_finint":0.231,"s5_fx":0.035,"s6_deriv":0.057,"corr":-0.252,"stress":0.309},
      {"date":"2016-12-11","s1_money":0.04,"s2_bond":0.119,"s3_equity":0.081,"s4_finint":0.236,"s5_fx":0.03,"s6_deriv":0.051,"corr":-0.241,"stress":0.309},
      {"date":"2016-12-21","s1_money":0.04,"s2_bond":0.119,"s3_equity":0.075,"s4_finint":0.237,"s5_fx":0.03,"s6_deriv":0.05,"corr":-0.231,"stress":0.315}
    ],
    "ell": [{"date": "2015-10-24", "v": 0.28}],
    "arr": [{"date": "2016-11-11", "v": 0.274, "date2": "2018-02-12", "v2": 0.217}],
    "head": [{"date": "2018-02-12", "v": 0.216}],
    "lev": [{"level": 0.49}, {"level": 0.272}],
    "qticks": [
      {"date": "2014-11-01", "label": "Nov-14"}, {"date": "2015-02-01", "label": "Feb-15"}, {"date": "2015-05-01", "label": "May-15"},
      {"date": "2015-08-01", "label": "Aug-15"}, {"date": "2015-11-01", "label": "Nov-15"}, {"date": "2016-02-01", "label": "Feb-16"},
      {"date": "2016-05-01", "label": "May-16"}, {"date": "2016-08-01", "label": "Aug-16"}, {"date": "2016-11-01", "label": "Nov-16"}
    ]
  },
  "hconcat": [
    {
      "width": 564,
      "height": 319,
      "layer": [
        {
          "layer": [
            {
              "data": {"name": "d"},
              "transform": [{"fold": ["s1_money", "s2_bond", "s3_equity", "s4_finint", "s5_fx", "s6_deriv"], "as": ["series", "val"]}],
              "mark": {"type": "area"},
              "encoding": {
                "x": {"field": "date", "type": "temporal", "title": null, "scale": {"type": "utc", "domain": [{"year": 2005, "month": 1, "date": 1, "utc": true}, {"year": 2016, "month": 12, "date": 21, "utc": true}]}, "axis": {"tickCount": {"interval": "year", "step": 1}, "format": "%b-%y", "labelAngle": -90, "labelPadding": 18, "labelOverlap": false, "grid": false}},
                "y": {"field": "val", "type": "quantitative", "stack": "zero", "title": null, "scale": {"domain": [-0.5, 0.9], "nice": false}, "axis": {"orient": "left", "values": [-0.5, -0.3, -0.1, 0.1, 0.3, 0.5, 0.7, 0.9], "format": ".2f", "labelPadding": 15, "grid": true}},
                "order": {"field": "series", "sort": "ascending"},
                "color": {
                  "field": "series", "type": "nominal",
                  "scale": {"domain": ["s1_money", "s2_bond", "s3_equity", "s4_finint", "s5_fx", "s6_deriv", "corr", "stress"], "range": ["#00834f", "#cd2144", "#8fbce2", "#dfad00", "#d5d4d0", "#a4410f", "#fdebb3", "#1a1a1a"]},
                  "legend": {
                    "orient": "none", "legendX": 106, "legendY": -92,
                    "direction": "horizontal", "columns": 3, "gridAlign": "all",
                    "columnPadding": 17, "rowPadding": 0.5,
                    "title": null, "symbolSize": 100, "symbolType": "square",
                    "labelFontSize": 16, "labelColor": "#404040", "labelLimit": 300, "labelOffset": 3,
                    "labelExpr": "datum.value == 's1_money' ? 'Money market' : datum.value == 's2_bond' ? 'Bond market' : datum.value == 's3_equity' ? 'Equity market' : datum.value == 's4_finint' ? 'Financial intermediaries' : datum.value == 's5_fx' ? 'Foreign Exchange market' : datum.value == 's6_deriv' ? 'Derivatives market' : datum.value == 'corr' ? 'Correlation' : 'Stress indicator'",
                    "encode": {"symbols": {"update": {
                      "shape": {"signal": "datum.value === 'stress' ? 'M-5.8,0L1,0' : 'square'"},
                      "fill": {"signal": "datum.value === 'stress' ? 'transparent' : scale('color', datum.value)"},
                      "stroke": {"signal": "datum.value === 'stress' ? '#1a1a1a' : 'transparent'"},
                      "strokeWidth": {"value": 3},
                      "opacity": {"value": 1}
                    }}}
                  }
                }
              }
            },
            {
              "data": {"name": "d"},
              "mark": {"type": "area"},
              "encoding": {
                "x": {"field": "date", "type": "temporal", "title": null, "scale": {"type": "utc", "domain": [{"year": 2005, "month": 1, "date": 1, "utc": true}, {"year": 2016, "month": 12, "date": 21, "utc": true}]}},
                "y": {"field": "corr", "type": "quantitative", "title": null},
                "y2": {"datum": 0},
                "color": {"datum": "corr", "scale": {"domain": ["s1_money", "s2_bond", "s3_equity", "s4_finint", "s5_fx", "s6_deriv", "corr", "stress"], "range": ["#00834f", "#cd2144", "#8fbce2", "#dfad00", "#d5d4d0", "#a4410f", "#fdebb3", "#1a1a1a"]}}
              }
            }
          ]
        },
        {
          "layer": [
            {
              "data": {"name": "d"},
              "mark": {"type": "line", "strokeWidth": 3},
              "encoding": {
                "x": {"field": "date", "type": "temporal", "title": null, "scale": {"type": "utc", "domain": [{"year": 2005, "month": 1, "date": 1, "utc": true}, {"year": 2016, "month": 12, "date": 21, "utc": true}]}},
                "y": {"field": "stress", "type": "quantitative", "title": null, "scale": {"domain": [-0.5, 0.9], "nice": false}, "axis": {"orient": "right", "values": [-0.5, -0.3, -0.1, 0.1, 0.3, 0.5, 0.7, 0.9], "format": ".2f", "labelPadding": 6, "grid": false}},
                "color": {"datum": "stress", "scale": {"domain": ["s1_money", "s2_bond", "s3_equity", "s4_finint", "s5_fx", "s6_deriv", "corr", "stress"], "range": ["#00834f", "#cd2144", "#8fbce2", "#dfad00", "#d5d4d0", "#a4410f", "#fdebb3", "#1a1a1a"]}}
              }
            },
            {
              "data": {"name": "ell"},
              "mark": {"type": "point", "shape": "M0.69,0C0.69,0.5523,0.381,1,0,1C-0.381,1,-0.69,0.5523,-0.69,0C-0.69,-0.5523,-0.381,-1,0,-1C0.381,-1,0.69,-0.5523,0.69,0Z", "size": 20736, "filled": false, "stroke": "#cf2142", "strokeWidth": 2, "opacity": 1},
              "encoding": {
                "x": {"field": "date", "type": "temporal", "title": null},
                "y": {"field": "v", "type": "quantitative", "title": null}
              }
            },
            {
              "data": {"name": "arr"},
              "mark": {"type": "rule", "color": "#cf2142", "strokeWidth": 2},
              "encoding": {
                "x": {"field": "date", "type": "temporal", "title": null},
                "x2": {"field": "date2"},
                "y": {"field": "v", "type": "quantitative", "title": null},
                "y2": {"field": "v2"}
              }
            },
            {
              "data": {"name": "head"},
              "mark": {"type": "point", "shape": "triangle-right", "size": 320, "filled": true, "color": "#cf2142", "opacity": 1, "angle": 12},
              "encoding": {
                "x": {"field": "date", "type": "temporal", "title": null},
                "y": {"field": "v", "type": "quantitative", "title": null}
              }
            }
          ]
        }
      ],
      "resolve": {"scale": {"y": "independent"}}
    },
    {
      "width": 203,
      "height": 318,
      "layer": [
        {
          "data": {"name": "d"},
          "transform": [
            {"filter": "time(datum.date) >= utc(2014, 8, 20)"},
            {"fold": ["s1_money", "s2_bond", "s3_equity", "s4_finint", "s5_fx", "s6_deriv"], "as": ["series", "val"]}
          ],
          "mark": {"type": "area"},
          "encoding": {
            "x": {"field": "date", "type": "temporal", "title": null, "scale": {"type": "utc", "domain": [{"year": 2014, "month": 10, "date": 1, "utc": true}, {"year": 2016, "month": 12, "date": 21, "utc": true}]}, "axis": null},
            "y": {"field": "val", "type": "quantitative", "stack": "zero", "title": null, "scale": {"domain": [-0.4, 0.7], "nice": false}, "axis": {"orient": "left", "values": [-0.4, -0.3, -0.2, -0.1, 0, 0.1, 0.2, 0.3, 0.4, 0.5, 0.6, 0.7], "format": ".1f", "labelPadding": 8, "grid": true}},
            "order": {"field": "series", "sort": "ascending"},
            "color": {"field": "series", "type": "nominal", "scale": {"domain": ["s1_money", "s2_bond", "s3_equity", "s4_finint", "s5_fx", "s6_deriv", "corr", "stress"], "range": ["#00834f", "#cd2144", "#8fbce2", "#dfad00", "#d5d4d0", "#a4410f", "#fdebb3", "#1a1a1a"]}}
          }
        },
        {
          "data": {"name": "d"},
          "transform": [{"filter": "time(datum.date) >= utc(2014, 8, 20)"}],
          "mark": {"type": "area"},
          "encoding": {
            "x": {"field": "date", "type": "temporal", "title": null, "axis": null},
            "y": {"field": "corr", "type": "quantitative", "title": null, "scale": {"domain": [-0.406, 0.603], "nice": false}, "axis": {"orient": "right", "values": [-0.4, -0.3, -0.2, -0.1, 0, 0.1, 0.2, 0.3, 0.4, 0.5, 0.6], "format": ".1f", "labelPadding": 9, "grid": false}},
            "y2": {"datum": 0},
            "color": {"datum": "corr", "scale": {"domain": ["s1_money", "s2_bond", "s3_equity", "s4_finint", "s5_fx", "s6_deriv", "corr", "stress"], "range": ["#00834f", "#cd2144", "#8fbce2", "#dfad00", "#d5d4d0", "#a4410f", "#fdebb3", "#1a1a1a"]}}
          }
        },
        {
          "layer": [
            {
              "data": {"name": "d"},
              "transform": [{"filter": "time(datum.date) >= utc(2014, 8, 20)"}],
              "mark": {"type": "line", "strokeWidth": 4.5},
              "encoding": {
                "x": {"field": "date", "type": "temporal", "title": null, "axis": null},
                "y": {"field": "stress", "type": "quantitative", "title": null, "scale": {"domain": [-0.4, 0.7], "nice": false}, "axis": null},
                "color": {"datum": "stress", "scale": {"domain": ["s1_money", "s2_bond", "s3_equity", "s4_finint", "s5_fx", "s6_deriv", "corr", "stress"], "range": ["#00834f", "#cd2144", "#8fbce2", "#dfad00", "#d5d4d0", "#a4410f", "#fdebb3", "#1a1a1a"]}}
              }
            },
            {
              "data": {"name": "lev"},
              "mark": {"type": "rule", "color": "#d42a48", "strokeWidth": 2.5, "strokeDash": [2.5, 4]},
              "encoding": {
                "y": {"field": "level", "type": "quantitative", "title": null}
              }
            },
            {
              "data": {"name": "qticks"},
              "mark": {"type": "text", "angle": 270, "align": "right", "baseline": "middle", "dx": -22, "fontSize": 16, "font": "Roboto", "color": "#4d4d4d", "clip": false},
              "encoding": {
                "x": {"field": "date", "type": "temporal", "title": null, "axis": null},
                "y": {"datum": -0.4},
                "text": {"field": "label", "type": "nominal"}
              }
            }
          ]
        }
      ],
      "resolve": {"scale": {"y": "independent"}}
    }
  ]
}
